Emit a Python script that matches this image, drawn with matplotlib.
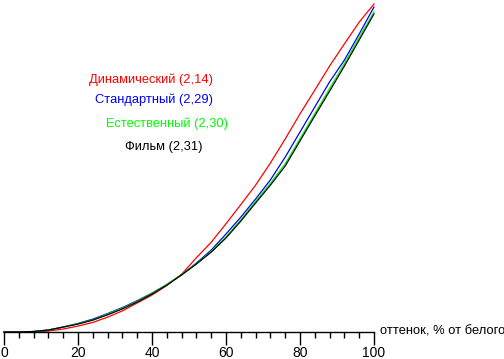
import matplotlib
matplotlib.use("Agg")
import matplotlib.pyplot as plt
from matplotlib.ticker import MultipleLocator

plt.rcParams["font.family"] = ["Liberation Sans", "DejaVu Sans"]

# brightness, % of white
shade = [0, 4, 8, 12, 16, 20, 24, 28, 32, 36, 40, 44, 48,
         52, 56, 60, 64, 68, 72, 76, 80, 84, 88, 92, 96, 100]

dynamic = [0, 0, 0, 0.003, 0.009, 0.018, 0.029, 0.045, 0.064, 0.088, 0.112, 0.141, 0.175,
           0.225, 0.272, 0.328, 0.386, 0.445, 0.512, 0.585, 0.661, 0.733, 0.806, 0.873, 0.939, 0.994]
standard = [0, 0, 0.0015, 0.006, 0.015, 0.026, 0.039, 0.056, 0.074, 0.095, 0.118, 0.144, 0.173,
            0.209, 0.248, 0.297, 0.348, 0.403, 0.461, 0.530, 0.606, 0.682, 0.758, 0.824, 0.903, 0.985]
natural = [0, 0, 0.0015, 0.006, 0.015, 0.025, 0.037, 0.054, 0.072, 0.093, 0.117, 0.144, 0.174,
           0.207, 0.244, 0.288, 0.340, 0.396, 0.451, 0.510, 0.586, 0.662, 0.738, 0.814, 0.893, 0.970]
film = [0, 0, 0.0015, 0.006, 0.015, 0.024, 0.036, 0.052, 0.070, 0.091, 0.115, 0.142, 0.173,
        0.206, 0.242, 0.285, 0.336, 0.391, 0.445, 0.503, 0.579, 0.655, 0.730, 0.806, 0.885, 0.964]

labels = ["Динамический (2,14)", "Стандартный (2,29)", "Естественный (2,30)", "Фильм (2,31)"]
colors = ["#ff0000", "#0000ff", "#00ff00", "#000000"]
series = [dynamic, standard, natural, film]

W, H = 504, 359
fig = plt.figure(figsize=(W / 100, H / 100), dpi=100)
ax = fig.add_axes([4 / W, (H - 332) / H, 370 / W, 330 / H])

for vals, col in zip(series, colors):
    ax.plot(shade, vals, color=col, lw=0.9, clip_on=False)

ax.set_xlim(0, 100)
ax.set_ylim(0, 1)
ax.xaxis.set_major_locator(MultipleLocator(20))
ax.xaxis.set_minor_locator(MultipleLocator(4))
ax.tick_params(axis="x", which="major", direction="out", length=9.5, width=1,
               labelsize=10, pad=0.5)
ax.tick_params(axis="x", which="minor", direction="out", length=4.5, width=1)
ax.set_yticks([])
for side in ("left", "top", "right"):
    ax.spines[side].set_visible(False)
ax.spines["bottom"].set_linewidth(1)

ax.text(1.017, 0.0, "оттенок, % от белого", transform=ax.transAxes,
        ha="left", va="center", fontsize=9.3)

text_pos = [(151, 80), (154, 100), (167, 124), (164, 147)]
for (px, py), lab, col in zip(text_pos, labels, colors):
    fig.text(px / W, 1 - py / H, lab, color=col, fontsize=9.3, ha="center", va="center")

fig.savefig("out.png", dpi=100)
